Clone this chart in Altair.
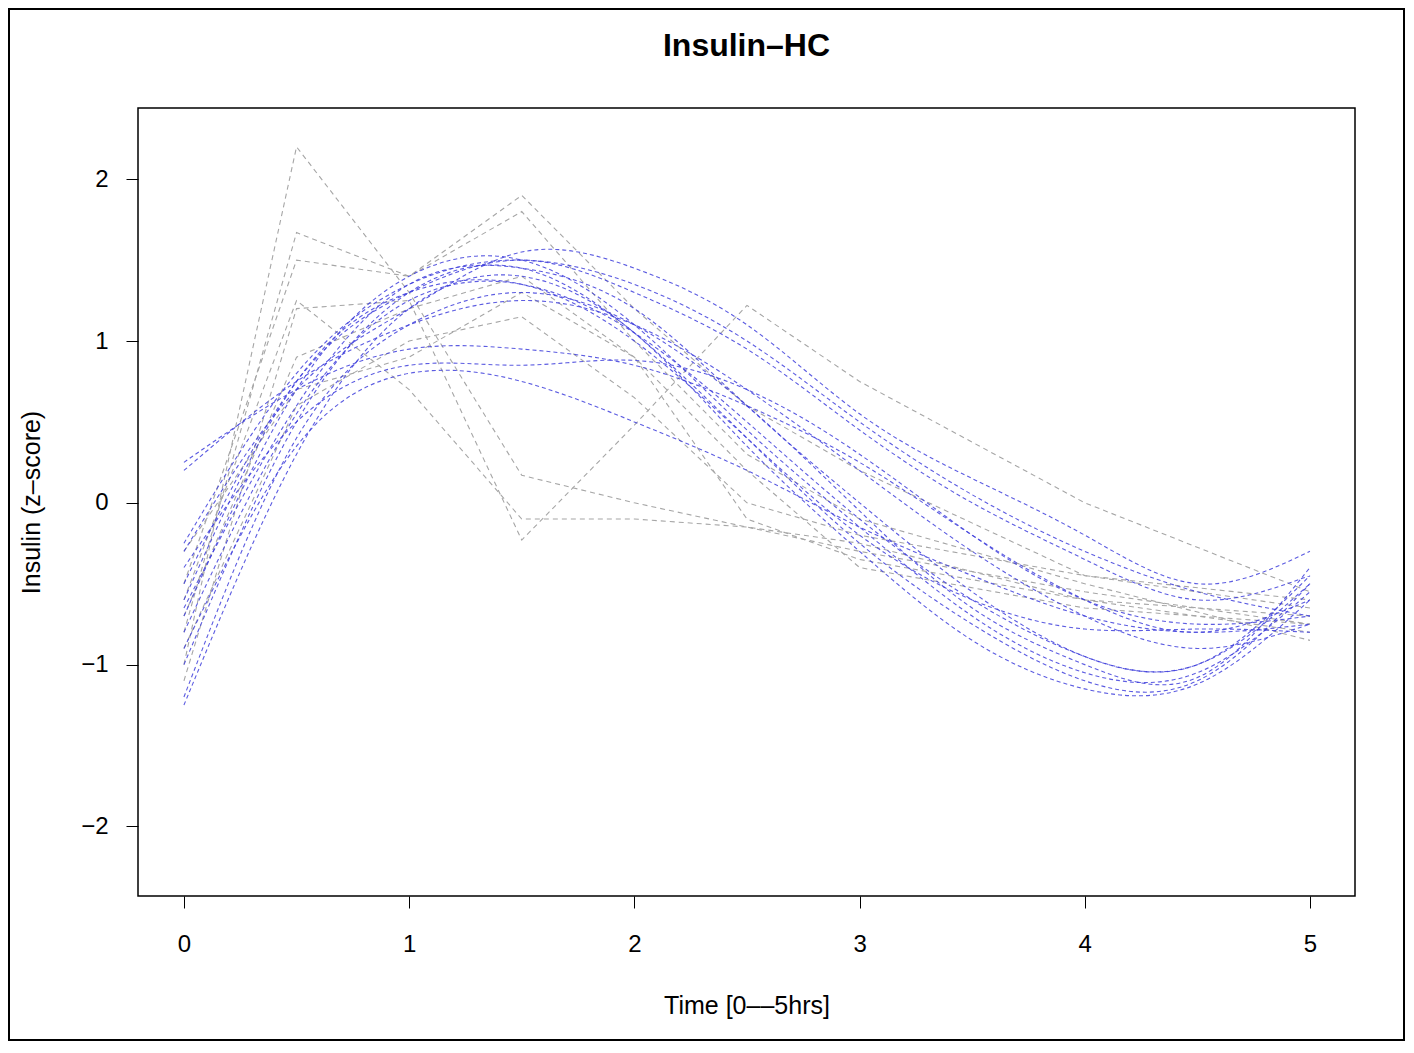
import altair as alt
import pandas as pd

# ---- data ----
gray_times = [0, 0.5, 1, 1.5, 2, 2.5, 3, 4, 5]
gray_series = {
    "g1": [-1.00, 2.20, 1.30, 0.17, 0.00, -0.15, -0.30, -0.55, -0.75],
    "g2": [-0.80, 1.67, 1.40, 1.90, 1.20, 0.60, 0.20, -0.45, -0.65],
    "g3": [-0.50, 1.50, 1.40, 1.80, 1.00, 0.30, -0.10, -0.50, -0.85],
    "g4": [-1.10, 1.20, 1.25, -0.23, 0.48, 1.22, 0.75, 0.00, -0.55],
    "g5": [-0.60, 1.25, 0.70, -0.10, -0.10, -0.15, -0.25, -0.60, -0.80],
    "g6": [-0.30, 0.70, 0.90, 1.30, 0.90, -0.10, -0.35, -0.60, -0.70],
    "g7": [-0.90, 0.60, 1.00, 1.15, 0.65, 0.00, -0.20, -0.45, -0.60],
    "g8": [-0.70, 0.90, 1.20, 1.40, 0.90, 0.20, -0.40, -0.65, -0.75],
}

blue_times = [0, 0.5, 1, 1.5, 2, 2.5, 3, 3.5, 4, 4.5, 5]
blue_series = {
    "b1":  [-0.30, 0.70, 1.20, 1.55, 1.45, 1.10, 0.55, 0.15, -0.20, -0.50, -0.30],
    "b2":  [-0.50, 0.75, 1.30, 1.50, 1.30, 0.95, 0.45, 0.00, -0.35, -0.60, -0.45],
    "b3":  [0.25, 0.70, 0.95, 0.95, 0.85, 0.60, 0.25, -0.20, -0.60, -0.80, -0.60],
    "b4":  [-0.65, 0.60, 1.35, 1.45, 1.20, 0.60, 0.00, -0.55, -0.95, -1.00, -0.50],
    "b5":  [-0.70, 0.70, 1.40, 1.50, 1.10, 0.45, -0.15, -0.70, -1.05, -1.05, -0.55],
    "b6":  [-1.00, 0.50, 1.30, 1.45, 1.05, 0.40, -0.25, -0.75, -1.10, -1.10, -0.50],
    "b7":  [-1.25, 0.30, 1.20, 1.40, 1.05, 0.35, -0.30, -0.85, -1.15, -1.12, -0.60],
    "b8":  [-0.90, 0.35, 0.80, 0.75, 0.50, 0.20, -0.15, -0.45, -0.70, -0.80, -0.75],
    "b9":  [-0.40, 0.50, 0.85, 0.85, 0.88, 0.70, 0.30, -0.20, -0.60, -0.75, -0.70],
    "b10": [-0.60, 0.75, 1.30, 1.35, 1.00, 0.40, -0.20, -0.60, -0.78, -0.78, -0.80],
    "b11": [-0.25, 0.80, 1.35, 1.50, 1.35, 1.00, 0.50, 0.05, -0.30, -0.55, -0.70],
    "b12": [-0.80, 0.55, 1.25, 1.35, 1.05, 0.50, -0.10, -0.60, -0.95, -1.00, -0.45],
    "b13": [0.20, 0.75, 1.10, 1.25, 1.10, 0.70, 0.20, -0.30, -0.70, -0.90, -0.75],
    "b14": [-1.20, 0.40, 1.10, 1.30, 1.10, 0.60, -0.05, -0.65, -1.00, -1.08, -0.40],
}

x_ticks = [0, 1, 2, 3, 4, 5]
y_ticks = [-2, -1, 0, 1, 2]
title_text = "Insulin\u2013HC"

# ---- build tables ----
gray_rows = [
    {"id": k, "t": t, "v": v}
    for k, vals in gray_series.items()
    for t, v in zip(gray_times, vals)
]
blue_rows = [
    {"id": k, "t": t, "v": v}
    for k, vals in blue_series.items()
    for t, v in zip(blue_times, vals)
]
gray_df = pd.DataFrame(gray_rows)
blue_df = pd.DataFrame(blue_rows)

W, H = 1217, 788
FONT = "Liberation Sans"

x_scale = alt.Scale(domain=[-0.204, 5.2], nice=False, zero=False)
y_scale = alt.Scale(domain=[-2.43, 2.44], nice=False, zero=False)

x_axis = alt.Axis(
    values=x_ticks, format="d", title="Time [0\u2013\u20135hrs]", grid=False, domain=False,
    tickSize=12, tickColor="black", tickWidth=1, labelPadding=24,
    labelFontSize=24, labelFont=FONT, labelColor="black",
    titleFontSize=25, titleFont=FONT, titleFontWeight="normal", titleColor="black",
    titlePadding=37,
)
y_axis = alt.Axis(
    values=y_ticks, format="d", title="Insulin (z\u2013score)", grid=False, domain=False,
    tickSize=12, tickColor="black", tickWidth=1, labelPadding=18,
    labelFontSize=24, labelFont=FONT, labelColor="black",
    titleFontSize=25, titleFont=FONT, titleFontWeight="normal", titleColor="black",
    titlePadding=36,
)

gray = alt.Chart(gray_df).mark_line(
    color="#a6a6a6", strokeWidth=1.1, strokeDash=[5, 4]
).encode(
    x=alt.X("t:Q", scale=x_scale, axis=x_axis),
    y=alt.Y("v:Q", scale=y_scale, axis=y_axis),
    detail="id:N",
    order="t:Q",
)

blue = alt.Chart(blue_df).mark_line(
    color="#4040dc", strokeWidth=1.1, strokeDash=[4, 3], opacity=0.85,
    interpolate="natural",
).encode(
    x=alt.X("t:Q", scale=x_scale),
    y=alt.Y("v:Q", scale=y_scale),
    detail="id:N",
    order="t:Q",
)

one = pd.DataFrame({"label": [title_text]})

frame = alt.Chart(one).mark_rect(
    fill=None, stroke="black", strokeWidth=2
).encode(
    x=alt.value(-129), x2=alt.value(W + 49),
    y=alt.value(-99), y2=alt.value(H + 144),
)

title = alt.Chart(one).mark_text(
    font=FONT, fontSize=32, fontWeight="bold", color="black",
    align="center", baseline="middle",
).encode(
    x=alt.value(W / 2), y=alt.value(-62), text="label:N",
)

chart = alt.layer(gray, blue, frame, title).properties(
    width=W, height=H,
    autosize=alt.AutoSizeParams(type="none"),
    padding={"left": 130, "top": 100, "right": 50, "bottom": 145},
).configure(
    background="white"
).configure_view(
    stroke="black", strokeWidth=1.5
)

chart.save("out.html", embed_options={"renderer": "svg", "actions": False})
